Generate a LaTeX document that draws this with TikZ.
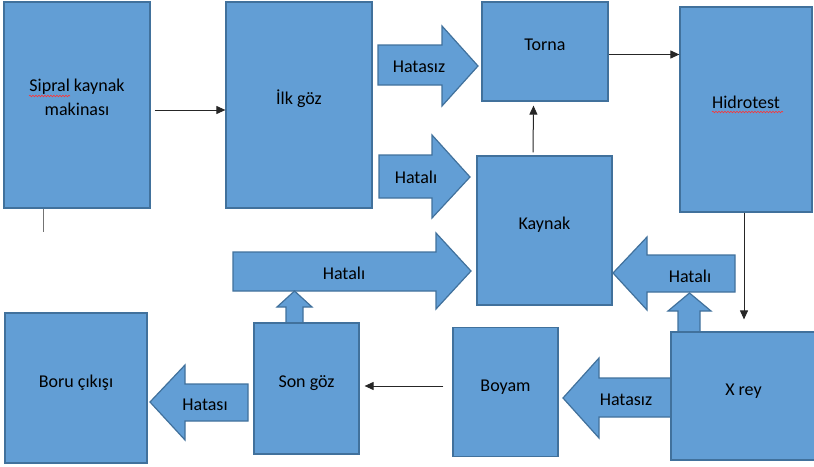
\documentclass[tikz,border=0pt]{standalone}
\usepackage{fontspec}
\setmainfont{Carlito}
\usetikzlibrary{arrows.meta,positioning,decorations.pathmorphing}
\definecolor{boxfill}{RGB}{98,158,213}
\definecolor{boxline}{RGB}{65,113,156}

\begin{document}
\begin{tikzpicture}[x=1pt,y=-1pt,
stage/.style={rectangle,draw=boxline,fill=boxfill,line width=1.2pt,inner sep=0pt,
  font=\fontsize{18}{24}\selectfont,text height=12pt,text depth=14pt},
blockarrow/.style={draw=boxline,fill=boxfill,line width=1.2pt,line join=miter},
tag/.style={font=\fontsize{18}{24}\selectfont,inner sep=0pt},
flow/.style={draw=black!85,line width=1pt,-{Triangle[length=9pt,width=8pt]}},
spell/.style={draw=red!80,line width=0.6pt,decorate,decoration={snake,amplitude=0.8pt,segment length=3pt}}]
    \useasboundingbox (0,0) rectangle (814,466);
    % block arrows
    \draw[blockarrow] (378,45) -- (442,45) -- (442,26) -- (478,66) -- (442,106) -- (442,85) -- (378,85) -- cycle;
    \draw[blockarrow] (379,155) -- (432,155) -- (432,135) -- (470,177) -- (432,218) -- (432,198) -- (379,198) -- cycle;
    \draw[blockarrow] (233,252) -- (436,252) -- (436,233) -- (471,271) -- (436,309) -- (436,291) -- (233,291) -- cycle;
    \draw[blockarrow] (286,323) -- (286,307) -- (277,307) -- (294.5,291) -- (312,307) -- (303,307) -- (303,323) -- cycle;
    \draw[blockarrow] (735,255) -- (647,255) -- (647,237) -- (613,273) -- (647,310) -- (647,292) -- (735,292) -- cycle;
    \draw[blockarrow] (678,332) -- (678,311) -- (668,311) -- (689.5,293) -- (711,311) -- (700,311) -- (700,332) -- cycle;
    \draw[blockarrow] (671,378) -- (599,378) -- (599,358) -- (563,398) -- (599,438) -- (599,417) -- (671,417) -- cycle;
    \draw[blockarrow] (248,384) -- (185,384) -- (185,365) -- (150,402) -- (185,440) -- (185,421) -- (248,421) -- cycle;
    \node[tag] (hatasiz1) at (419,67) {Hatasız};
    \node[tag] (hatali1) at (416,177) {Hatalı};
    \node[tag] (hatali2) at (344,273) {Hatalı};
    \node[tag] (hatali3) at (690,276) {Hatalı};
    \node[tag] (hatasiz2) at (626,400) {Hatasız};
    \node[tag] (hatasi) at (205,405) {Hatası};
    % stations
    \node[stage,minimum width=146pt,minimum height=206pt,align=center,text height=32pt,text depth=12pt] (sipral) at (77,105) {Sipral kaynak\\makinası};
    \node[stage,minimum width=146pt,minimum height=206pt] (ilk) at (299,105) {İlk göz};
    \node[stage,minimum width=126pt,minimum height=99pt] (torna) at (545,51.5) {Torna};
    \node[stage,minimum width=132pt,minimum height=205pt] (hidro) at (746,109.5) {Hidrotest};
    \node[stage,minimum width=135pt,minimum height=149pt] (kaynak) at (544.5,230.5) {Kaynak};
    \node[stage,minimum width=145pt,minimum height=128pt] (xrey) at (743.5,396) {X rey};
    \node[stage,minimum width=105pt,minimum height=129pt] (boyam) at (505.5,392) {Boyam};
    \node[stage,minimum width=105pt,minimum height=131pt] (songoz) at (306.5,388.5) {Son göz};
    \node[stage,minimum width=142pt,minimum height=150pt] (boru) at (76,388) {Boru çıkışı};
    \coordinate (stub) at (43,232);
    % connectors
    \draw[flow] ([xshift=4pt,yshift=-5pt]sipral.east) -- ([yshift=-5pt]ilk.west);
    \draw[black!55,line width=1pt] (stub |- sipral.south) -- (stub);
    \draw[flow] ([yshift=-3pt]torna.east) -- ([yshift=-3pt]torna.east -| hidro.west);
    \draw[flow] ([xshift=-11.5pt,yshift=3pt]kaynak.north) -- ([xshift=-11.5pt,yshift=-4pt]torna.south);
    \draw[flow,shorten >=12pt] ([xshift=-2pt]hidro.south) -- ([xshift=-2pt]hidro.south |- xrey.north);
    \draw[flow] ([xshift=-9pt,yshift=6pt]boyam.west) -- ([xshift=5pt,yshift=6pt]boyam.west -| songoz.east);
    % spelling marks
    \draw[spell] (29,96) -- (70,96);
    \draw[spell] (712,112) -- (783,112);
\end{tikzpicture}
\end{document}
